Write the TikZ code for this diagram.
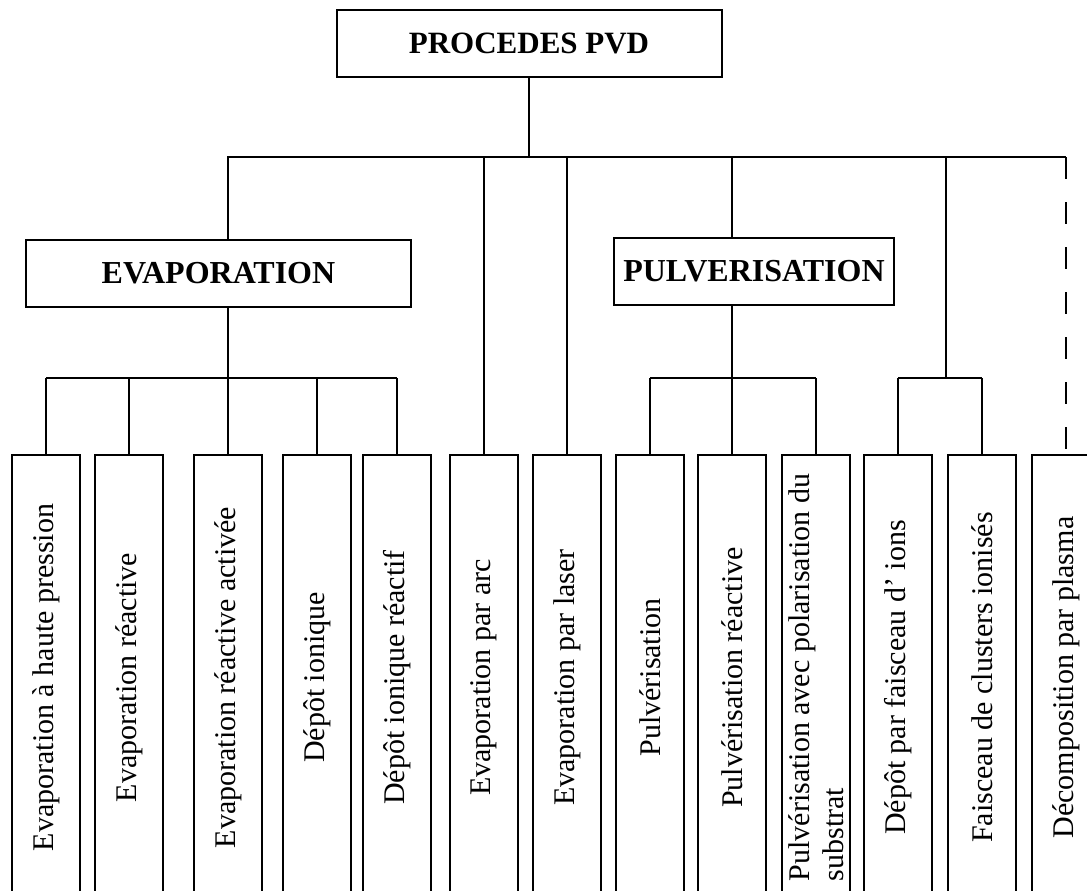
\documentclass[tikz,border=0pt]{standalone}
\usepackage{fontspec}
\setmainfont{Liberation Serif}
\usetikzlibrary{positioning,calc}

\begin{document}
\begin{tikzpicture}[x=1pt,y=-1pt,
        box/.style={draw, line width=2pt, inner sep=0pt, minimum height=67pt, font=\bfseries\fontsize{32}{36}\selectfont},
        leaf/.style={draw, line width=2pt, rotate=90, minimum width=445pt, minimum height=68pt, inner sep=0pt, font=\fontsize{30}{34}\selectfont},
        link/.style={line width=1.6pt}]
                \useasboundingbox (0,0) rectangle (1087,891);
                \coordinate (bus) at (529,157);
                \coordinate (sub) at (0,378);
                \coordinate (fj) at (946,157);
                % tetes
                \node[box, minimum width=385pt, font=\bfseries\fontsize{31}{34}\selectfont] (pvd) at (529,43.5) {PROCEDES PVD};
                \node[box, minimum width=385pt] (evap) at (218.5,273.5) {EVAPORATION};
                \node[box, minimum width=280pt] (pulv) at (754,271) {PULVERISATION};
                % procedes
                \node[leaf] (hp) at (46,677.5) {Evaporation à haute pression};
                \node[leaf] (er) at (129,677.5) {Evaporation réactive};
                \node[leaf] (era) at (228,677.5) {Evaporation réactive activée};
                \node[leaf] (di) at (317,677.5) {Dépôt ionique};
                \node[leaf] (dir) at (397,677.5) {Dépôt ionique réactif};
                \node[leaf] (arc) at (484,677.5) {Evaporation par arc};
                \node[leaf] (laser) at (567,677.5) {Evaporation par laser};
                \node[leaf] (pul) at (650,677.5) {Pulvérisation};
                \node[leaf] (pr) at (732,677.5) {Pulvérisation réactive};
                \node[leaf, align=left] (pps) at (816,677.5) {Pulvérisation avec polarisation du\\substrat};
                \node[leaf] (fi) at (898,677.5) {Dépôt par faisceau d' ions};
                \node[leaf] (fc) at (982,677.5) {Faisceau de clusters ionisés};
                \node[leaf] (dp) at (1066,677.5) {Décomposition par plasma};
                % liaisons
                \draw[link] (pvd.south) -- (bus);
                \draw[link] (evap.north -| era.east) -- (era.east |- bus) -- (bus -| dp.east);
                \draw[link] (arc.east) -- (arc.east |- bus);
                \draw[link] (laser.east) -- (laser.east |- bus);
                \draw[link] (pulv.north -| pr.east) -- (pr.east |- bus);
                \draw[link] (fj) -- (fj |- sub);
                \draw[link, dash pattern=on 22pt off 23pt] (bus -| dp.east) -- (dp.east);
                \draw[link] (evap.south -| era.east) -- (era.east |- sub);
                \draw[link] (pulv.south -| pr.east) -- (pr.east |- sub);
                \draw[link] (hp.east |- sub) -- (dir.east |- sub);
                \draw[link] (pul.east |- sub) -- (pps.east |- sub);
                \draw[link] (fi.east |- sub) -- (fc.east |- sub);
                \foreach \n in {hp,er,era,di,dir,pul,pr,pps,fi,fc}
                    \draw[link] (\n.east) -- (\n.east |- sub);
            \end{tikzpicture}
\end{document}
